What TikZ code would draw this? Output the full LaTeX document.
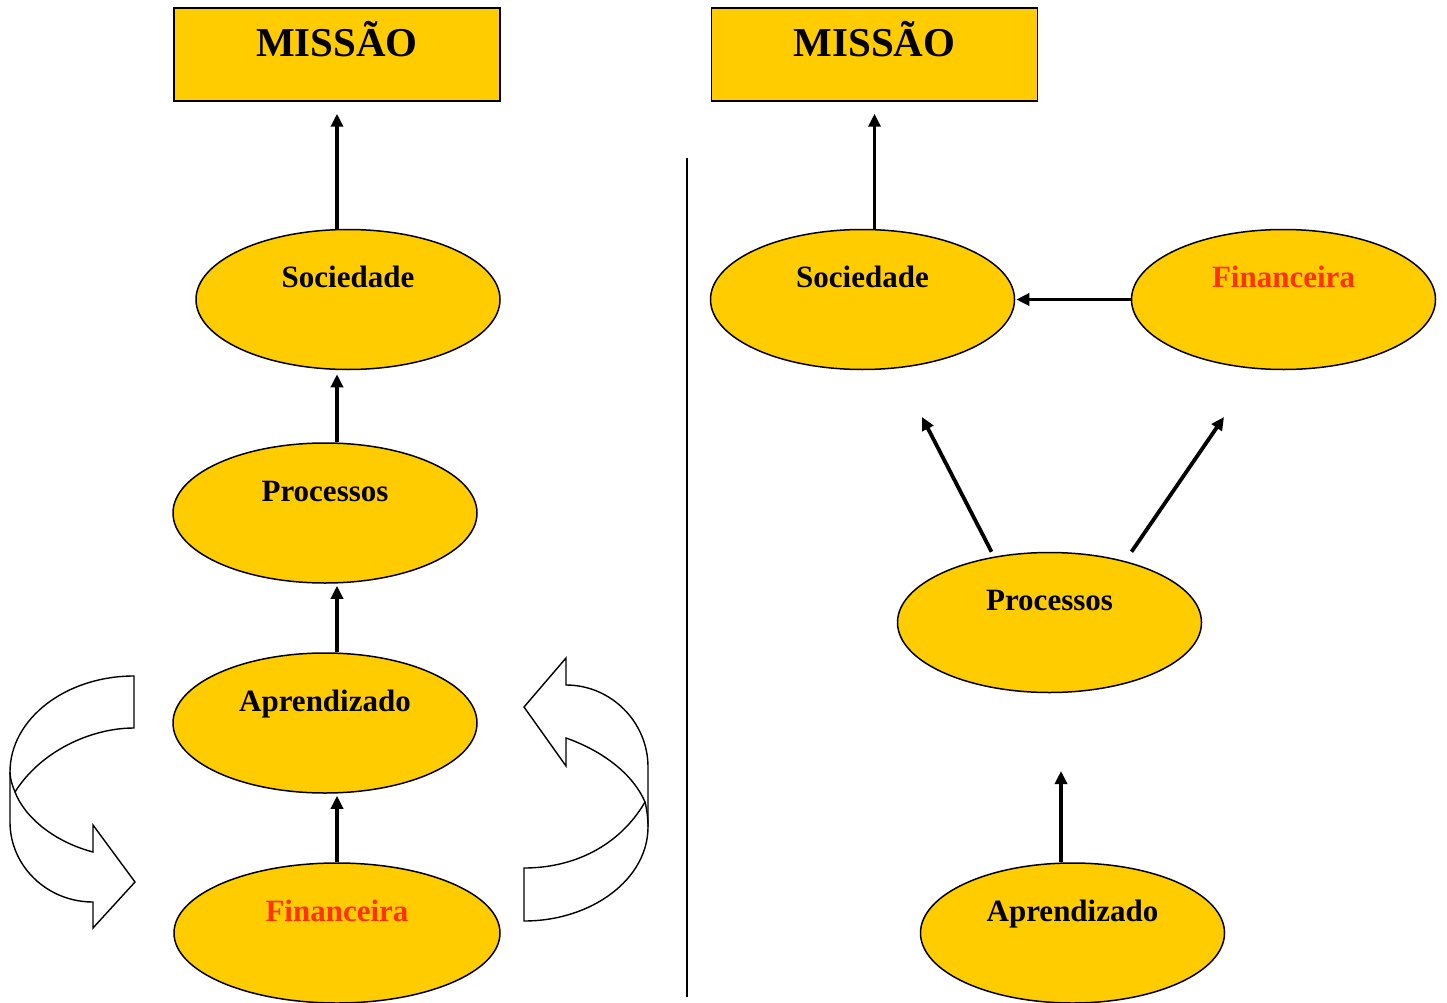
\documentclass[tikz,border=0pt]{standalone}
\usepackage{fontspec}
\setmainfont{Liberation Serif}
\usetikzlibrary{shapes.geometric,arrows.meta}
\definecolor{gold}{HTML}{FFCC00}
\definecolor{redtxt}{HTML}{FF3300}
\begin{document}
\begin{tikzpicture}[x=1pt,y=-1pt,
  missao/.style={draw=black,line width=1.5pt,fill=gold,minimum width=326pt,minimum height=93pt,inner sep=0pt,
    font=\fontsize{41}{41}\selectfont\bfseries,text height=35pt,text depth=30pt},
  oval/.style={ellipse,draw=black,line width=1.5pt,fill=gold,minimum width=304pt,minimum height=140pt,inner sep=0pt,
    font=\fontsize{31}{31}\selectfont\bfseries,text height=22pt,text depth=46pt},
  arr/.style={line width=3.8pt,-{Triangle[length=13pt,width=12pt]}},
  curvedarrow/.style={draw=black,line width=1.4pt,fill=white,line join=miter}]
\useasboundingbox (0,0) rectangle (1447,1003);
% left column
\node[missao] (m1) at (337,54.5) {MISSÃO};
\node[oval] (s1) at (348,299.5) {Sociedade};
\node[oval] (p1) at (325,513) {Processos};
\node[oval] (a1) at (325,723) {Aprendizado};
\node[oval,minimum width=326pt,text=redtxt] (f1) at (337,933) {Financeira};
\draw[arr,shorten >=12pt] (m1.south |- s1.north) -- (m1.south);
\draw[arr,shorten >=4pt] (m1.south |- p1.north) -- (m1.south |- s1.south);
\draw[arr,shorten >=2pt] (m1.south |- a1.north) -- (m1.south |- p1.south);
\draw[arr,shorten >=2pt] (m1.south |- f1.north) -- (m1.south |- a1.south);
% curved arrows
\draw[curvedarrow] (134,676) .. controls (65.5,676) and (10,719) .. (10,772) -- (10,822)
  .. controls (10,866) and (47,902) .. (93,902) -- (93,928) -- (135,882) -- (93,825) -- (93,852)
  .. controls (55,842) and (25,818) .. (15,792)
  .. controls (40,752) and (90,728) .. (134,728) -- cycle;
\draw[curvedarrow] (15,792) .. controls (12,785) and (10,778) .. (10,772);
\draw[curvedarrow] (524,921) .. controls (592,921) and (648,879) .. (648,827) -- (648,767)
  .. controls (648,722) and (611,685) .. (566,685) -- (566,658) -- (524,707) -- (566,766) -- (566,738)
  .. controls (600,750) and (632,772) .. (645,802)
  .. controls (620,845) and (575,868) .. (524,868) -- cycle;
\draw[curvedarrow] (645,802) .. controls (647,810) and (648,818) .. (648,827);
% divider
\draw[line width=1.5pt] (687,158) -- (687,997);
% right column
\node[missao] (m2) at (874.5,54.5) {MISSÃO};
\node[oval] (s2) at (862.5,299.5) {Sociedade};
\node[oval,text=redtxt] (f2) at (1283.5,299.5) {Financeira};
\node[oval] (p2) at (1049.5,622.5) {Processos};
\node[oval] (a2) at (1072.5,933) {Aprendizado};
\draw[arr,shorten >=12pt] (m2.south |- s2.north) -- (m2.south);
\draw[arr,shorten >=1pt] (f2.west) -- (s2.east);
\coordinate (t1) at (922,417);
\coordinate (t2) at (1224,417);
\coordinate (t3) at (1061,771);
\draw[arr] ([xshift=-58pt]p2.north) -- (t1);
\draw[arr] ([xshift=82pt]p2.north) -- (t2);
\draw[arr] (t3 |- a2.north) -- (t3);
\end{tikzpicture}
\end{document}
